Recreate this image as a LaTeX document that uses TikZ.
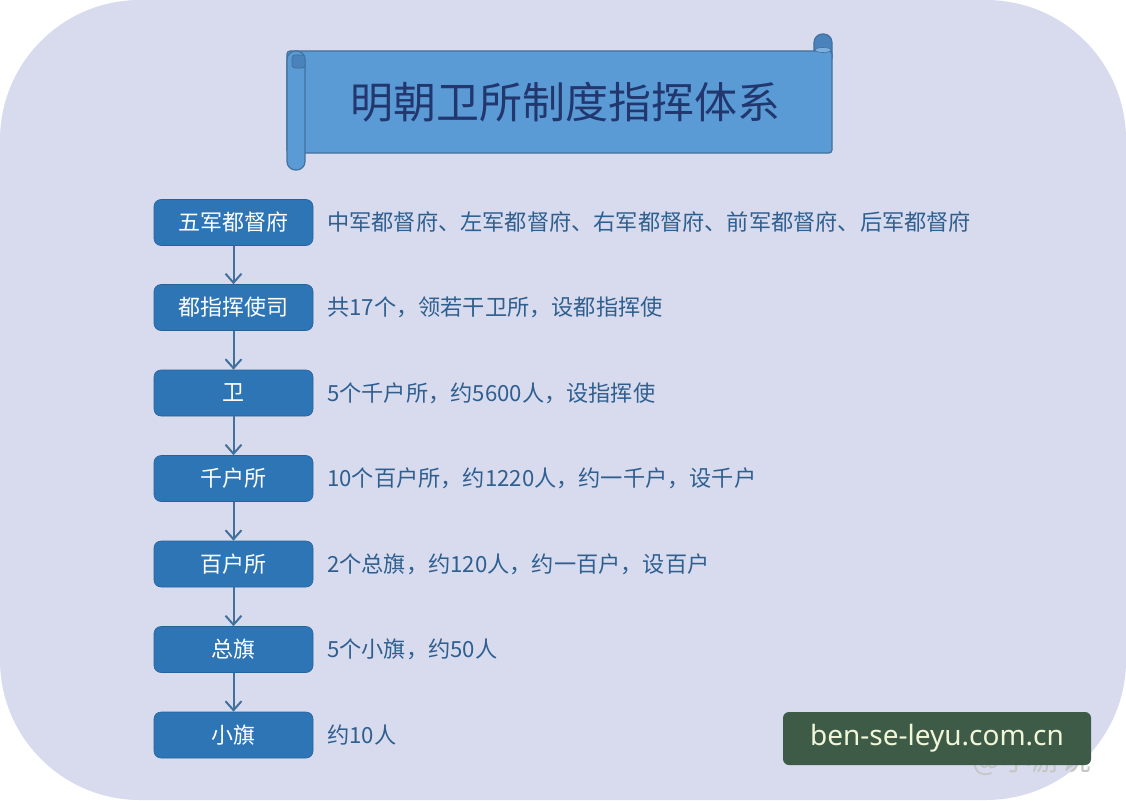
\documentclass[tikz,border=0pt]{standalone}
\usepackage{fontspec}
\setmainfont{Noto Sans CJK SC}
\newfontfamily\latinsans{Noto Sans}
\usetikzlibrary{arrows.meta}
\definecolor{bglav}{HTML}{D8DBEE}
\definecolor{boxblue}{HTML}{2E75B6}
\definecolor{scrollblue}{HTML}{5B9BD5}
\definecolor{scrolldark}{HTML}{4A83BC}
\definecolor{scrollline}{HTML}{41719C}
\definecolor{arrowcol}{HTML}{41719C}
\definecolor{desccol}{HTML}{2F5F8F}
\definecolor{titlecol}{HTML}{23376F}
\definecolor{wmgreen}{HTML}{3D5B47}
\definecolor{wmtext}{HTML}{F2F6D8}
\tikzset{
  levelbox/.style={rectangle, rounded corners=7pt, fill=boxblue, draw=boxblue!85!black, line width=0.6pt,
    minimum width=159pt, minimum height=46pt, inner sep=0pt, text=white,
    font=\fontsize{22}{26}\selectfont},
  desc/.style={anchor=west, inner sep=0pt, text=desccol, font=\fontsize{22.2}{26}\selectfont},
  flow/.style={draw=arrowcol, line width=2pt, -{Straight Barb[length=9pt,width=16pt]}},
  scrollpart/.style={fill=scrollblue, draw=scrollline, line width=1.2pt}
}
\begin{document}
\begin{tikzpicture}[x=1pt,y=-1pt]
\useasboundingbox (0,0) rectangle (1126,800);
\fill[white] (0,0) rectangle (1126,800);
\fill[bglav, rounded corners=140pt] (0,0) rectangle (1126,800);

% title scroll
\path[fill=scrolldark, draw=scrollline, line width=1.2pt, rounded corners=8.5pt] (814,34) rectangle (832,66);
\path[scrollpart, rounded corners=3pt] (287,51) rectangle (832,153);
\path[scrollpart, rounded corners=8.5pt] (287,51) rectangle (305,170);
\path[fill=scrolldark, draw=scrollline, line width=0.8pt, rounded corners=3pt] (292,55) rectangle (305,68);
\path[fill=scrollblue!80!white, draw=scrollline, line width=0.6pt] (823,50) ellipse (8pt and 2.5pt);
\node (title) at (565,102) [text=titlecol, font=\fontsize{43}{50}\selectfont, inner sep=0pt] {明朝卫所制度指挥体系};

% level boxes
\node[levelbox] (b1) at (233.5,222.5) {五军都督府};
\node[levelbox] (b2) at (233.5,307.5) {都指挥使司};
\node[levelbox] (b3) at (233.5,393) {卫};
\node[levelbox] (b4) at (233.5,478.5) {千户所};
\node[levelbox] (b5) at (233.5,564) {百户所};
\node[levelbox] (b6) at (233.5,649.5) {总旗};
\node[levelbox] (b7) at (233.5,735) {小旗};

\draw[flow] (b1) -- (b2);
\draw[flow] (b2) -- (b3);
\draw[flow] (b3) -- (b4);
\draw[flow] (b4) -- (b5);
\draw[flow] (b5) -- (b6);
\draw[flow] (b6) -- (b7);

% descriptions
\node[desc] (d1) at (327,222.5) {中军都督府、左军都督府、右军都督府、前军都督府、后军都督府};
\node[desc] (d2) at (327,307.5) {共17个，领若干卫所，设都指挥使};
\node[desc] (d3) at (327,393) {5个千户所，约5600人，设指挥使};
\node[desc] (d4) at (327,478.5) {10个百户所，约1220人，约一千户，设千户};
\node[desc] (d5) at (327,564) {2个总旗，约120人，约一百户，设百户};
\node[desc] (d6) at (327,649.5) {5个小旗，约50人};
\node[desc] (d7) at (327,735) {约10人};

% watermarks
\node (wm2) at (1032,760) [text=gray!45, font=\fontsize{30}{34}\selectfont, inner sep=0pt] {@小游说};
\node (wm) [fill=wmgreen, rounded corners=6pt, minimum width=308pt, minimum height=53pt, inner sep=0pt,
  text=wmtext, font=\latinsans\fontsize{28}{32}\selectfont] at (937,738.5) {ben-se-leyu.com.cn};
\end{tikzpicture}
\end{document}
